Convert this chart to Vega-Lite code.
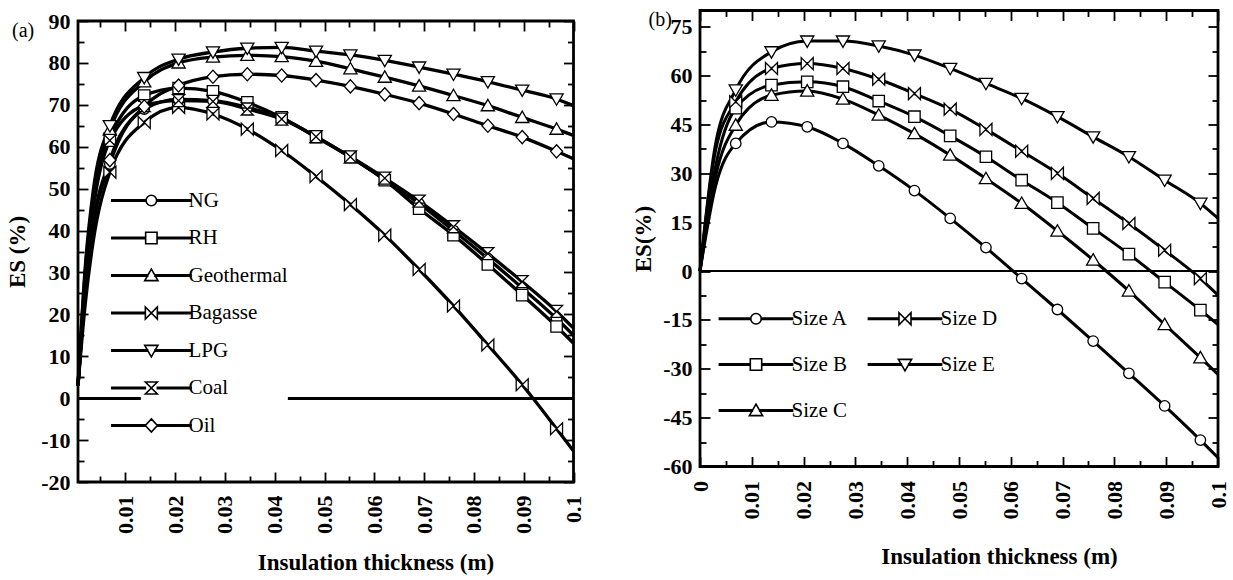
{
  "$schema": "https://vega.github.io/schema/vega-lite/v6.json",
  "background": "white",
  "padding": {"left": 5, "top": 7.5, "right": 2, "bottom": 2},
  "spacing": 45,
  "resolve": {"scale": {"stroke": "independent", "shape": "independent"}, "legend": {"stroke": "independent", "shape": "independent"}},
  "config": {
    "view": {"stroke": "black", "strokeWidth": 2.8},
    "font": "Liberation Serif",
    "axis": {
      "domain": false, "grid": false,
      "labelFont": "Liberation Serif", "labelFontWeight": "bold", "labelFontSize": 22, "labelColor": "black",
      "titleFont": "Liberation Serif", "titleFontWeight": "bold", "titleFontSize": 23, "titleColor": "black",
      "tickColor": "black", "tickWidth": 1.8, "labelOverlap": false, "labelFlush": false
    },
    "legend": {"labelFont": "Liberation Serif", "labelFontSize": 21, "labelColor": "black", "labelFontWeight": "normal"}
  },
  "datasets": {
    "fuels": [
      {"fuel":"NG","x":0.0005,"es":3},{"fuel":"NG","x":0.002,"es":26},{"fuel":"NG","x":0.0035,"es":40.5},{"fuel":"NG","x":0.0069,"es":55.9},{"fuel":"NG","x":0.0138,"es":69.0},{"fuel":"NG","x":0.0207,"es":71.3},{"fuel":"NG","x":0.0276,"es":71.0},{"fuel":"NG","x":0.0345,"es":69.4},{"fuel":"NG","x":0.0414,"es":66.8},{"fuel":"NG","x":0.0483,"es":62.4},{"fuel":"NG","x":0.0552,"es":57.5},{"fuel":"NG","x":0.0621,"es":52.2},{"fuel":"NG","x":0.069,"es":46.4},{"fuel":"NG","x":0.0759,"es":40.0},{"fuel":"NG","x":0.0828,"es":33.3},{"fuel":"NG","x":0.0897,"es":26.3},{"fuel":"NG","x":0.0966,"es":19.0},{"fuel":"NG","x":0.1,"es":15.0},
      {"fuel":"RH","x":0.0005,"es":3},{"fuel":"RH","x":0.002,"es":28},{"fuel":"RH","x":0.0035,"es":45},{"fuel":"RH","x":0.0069,"es":62},{"fuel":"RH","x":0.0138,"es":72.2},{"fuel":"RH","x":0.0207,"es":74.0},{"fuel":"RH","x":0.0276,"es":73.2},{"fuel":"RH","x":0.0345,"es":70.6},{"fuel":"RH","x":0.0414,"es":67.0},{"fuel":"RH","x":0.0483,"es":62.3},{"fuel":"RH","x":0.0552,"es":57.5},{"fuel":"RH","x":0.0621,"es":52.0},{"fuel":"RH","x":0.069,"es":45.2},{"fuel":"RH","x":0.0759,"es":38.9},{"fuel":"RH","x":0.0828,"es":31.9},{"fuel":"RH","x":0.0897,"es":24.6},{"fuel":"RH","x":0.0966,"es":17.1},{"fuel":"RH","x":0.1,"es":13.1},
      {"fuel":"Geothermal","x":0.0005,"es":3},{"fuel":"Geothermal","x":0.002,"es":31},{"fuel":"Geothermal","x":0.0035,"es":47.5},{"fuel":"Geothermal","x":0.0069,"es":64},{"fuel":"Geothermal","x":0.0138,"es":75.5},{"fuel":"Geothermal","x":0.0207,"es":80.0},{"fuel":"Geothermal","x":0.0276,"es":81.4},{"fuel":"Geothermal","x":0.0345,"es":81.8},{"fuel":"Geothermal","x":0.0414,"es":81.5},{"fuel":"Geothermal","x":0.0483,"es":80.4},{"fuel":"Geothermal","x":0.0552,"es":78.6},{"fuel":"Geothermal","x":0.0621,"es":76.6},{"fuel":"Geothermal","x":0.069,"es":74.5},{"fuel":"Geothermal","x":0.0759,"es":72.2},{"fuel":"Geothermal","x":0.0828,"es":69.8},{"fuel":"Geothermal","x":0.0897,"es":67.0},{"fuel":"Geothermal","x":0.0966,"es":64.2},{"fuel":"Geothermal","x":0.1,"es":62.7},
      {"fuel":"Bagasse","x":0.0005,"es":3},{"fuel":"Bagasse","x":0.002,"es":23},{"fuel":"Bagasse","x":0.0035,"es":37},{"fuel":"Bagasse","x":0.0069,"es":53.9},{"fuel":"Bagasse","x":0.0138,"es":65.8},{"fuel":"Bagasse","x":0.0207,"es":69.4},{"fuel":"Bagasse","x":0.0276,"es":67.8},{"fuel":"Bagasse","x":0.0345,"es":64.2},{"fuel":"Bagasse","x":0.0414,"es":59.1},{"fuel":"Bagasse","x":0.0483,"es":52.9},{"fuel":"Bagasse","x":0.0552,"es":46.2},{"fuel":"Bagasse","x":0.0621,"es":38.9},{"fuel":"Bagasse","x":0.069,"es":30.7},{"fuel":"Bagasse","x":0.0759,"es":22.0},{"fuel":"Bagasse","x":0.0828,"es":12.7},{"fuel":"Bagasse","x":0.0897,"es":3.2},{"fuel":"Bagasse","x":0.0966,"es":-7.3},{"fuel":"Bagasse","x":0.1,"es":-12.6},
      {"fuel":"LPG","x":0.0005,"es":3},{"fuel":"LPG","x":0.002,"es":32},{"fuel":"LPG","x":0.0035,"es":49},{"fuel":"LPG","x":0.0069,"es":65},{"fuel":"LPG","x":0.0138,"es":76.5},{"fuel":"LPG","x":0.0207,"es":80.9},{"fuel":"LPG","x":0.0276,"es":82.6},{"fuel":"LPG","x":0.0345,"es":83.5},{"fuel":"LPG","x":0.0414,"es":83.7},{"fuel":"LPG","x":0.0483,"es":82.8},{"fuel":"LPG","x":0.0552,"es":81.9},{"fuel":"LPG","x":0.0621,"es":80.6},{"fuel":"LPG","x":0.069,"es":79.0},{"fuel":"LPG","x":0.0759,"es":77.3},{"fuel":"LPG","x":0.0828,"es":75.5},{"fuel":"LPG","x":0.0897,"es":73.5},{"fuel":"LPG","x":0.0966,"es":71.4},{"fuel":"LPG","x":0.1,"es":69.8},
      {"fuel":"Coal","x":0.0005,"es":3},{"fuel":"Coal","x":0.002,"es":28},{"fuel":"Coal","x":0.0035,"es":44.5},{"fuel":"Coal","x":0.0069,"es":61.5},{"fuel":"Coal","x":0.0138,"es":69.8},{"fuel":"Coal","x":0.0207,"es":71.0},{"fuel":"Coal","x":0.0276,"es":70.8},{"fuel":"Coal","x":0.0345,"es":69.0},{"fuel":"Coal","x":0.0414,"es":66.6},{"fuel":"Coal","x":0.0483,"es":62.4},{"fuel":"Coal","x":0.0552,"es":57.6},{"fuel":"Coal","x":0.0621,"es":52.5},{"fuel":"Coal","x":0.069,"es":47.0},{"fuel":"Coal","x":0.0759,"es":40.9},{"fuel":"Coal","x":0.0828,"es":34.5},{"fuel":"Coal","x":0.0897,"es":27.8},{"fuel":"Coal","x":0.0966,"es":20.7},{"fuel":"Coal","x":0.1,"es":16.7},
      {"fuel":"Oil","x":0.0005,"es":3},{"fuel":"Oil","x":0.002,"es":26},{"fuel":"Oil","x":0.0035,"es":41},{"fuel":"Oil","x":0.0069,"es":56.8},{"fuel":"Oil","x":0.0138,"es":69.6},{"fuel":"Oil","x":0.0207,"es":74.6},{"fuel":"Oil","x":0.0276,"es":76.7},{"fuel":"Oil","x":0.0345,"es":77.3},{"fuel":"Oil","x":0.0414,"es":77.0},{"fuel":"Oil","x":0.0483,"es":75.9},{"fuel":"Oil","x":0.0552,"es":74.4},{"fuel":"Oil","x":0.0621,"es":72.5},{"fuel":"Oil","x":0.069,"es":70.4},{"fuel":"Oil","x":0.0759,"es":67.8},{"fuel":"Oil","x":0.0828,"es":65.0},{"fuel":"Oil","x":0.0897,"es":62.3},{"fuel":"Oil","x":0.0966,"es":58.9},{"fuel":"Oil","x":0.1,"es":57.1}
    ],
    "sizes": [
      {"size":"Size A","x":0,"es":0},{"size":"Size A","x":0.003,"es":26},{"size":"Size A","x":0.0069,"es":39.2},{"size":"Size A","x":0.0138,"es":45.8},{"size":"Size A","x":0.0207,"es":44.3},{"size":"Size A","x":0.0276,"es":39.2},{"size":"Size A","x":0.0345,"es":32.3},{"size":"Size A","x":0.0414,"es":24.7},{"size":"Size A","x":0.0483,"es":16.2},{"size":"Size A","x":0.0552,"es":7.2},{"size":"Size A","x":0.0621,"es":-2.3},{"size":"Size A","x":0.069,"es":-11.8},{"size":"Size A","x":0.0759,"es":-21.5},{"size":"Size A","x":0.0828,"es":-31.4},{"size":"Size A","x":0.0897,"es":-41.4},{"size":"Size A","x":0.0966,"es":-51.9},{"size":"Size A","x":0.1,"es":-57.3},
      {"size":"Size B","x":0,"es":0},{"size":"Size B","x":0.003,"es":32},{"size":"Size B","x":0.0069,"es":50.0},{"size":"Size B","x":0.0138,"es":57.1},{"size":"Size B","x":0.0207,"es":58.1},{"size":"Size B","x":0.0276,"es":56.6},{"size":"Size B","x":0.0345,"es":52.2},{"size":"Size B","x":0.0414,"es":47.4},{"size":"Size B","x":0.0483,"es":41.5},{"size":"Size B","x":0.0552,"es":35.1},{"size":"Size B","x":0.0621,"es":27.9},{"size":"Size B","x":0.069,"es":21.0},{"size":"Size B","x":0.0759,"es":13.1},{"size":"Size B","x":0.0828,"es":5.2},{"size":"Size B","x":0.0897,"es":-3.4},{"size":"Size B","x":0.0966,"es":-12.0},{"size":"Size B","x":0.1,"es":-16.4},
      {"size":"Size C","x":0,"es":0},{"size":"Size C","x":0.003,"es":29},{"size":"Size C","x":0.0069,"es":44.8},{"size":"Size C","x":0.0138,"es":54.0},{"size":"Size C","x":0.0207,"es":55.3},{"size":"Size C","x":0.0276,"es":52.8},{"size":"Size C","x":0.0345,"es":47.9},{"size":"Size C","x":0.0414,"es":42.2},{"size":"Size C","x":0.0483,"es":35.6},{"size":"Size C","x":0.0552,"es":28.4},{"size":"Size C","x":0.0621,"es":20.8},{"size":"Size C","x":0.069,"es":12.3},{"size":"Size C","x":0.0759,"es":3.4},{"size":"Size C","x":0.0828,"es":-6.1},{"size":"Size C","x":0.0897,"es":-16.4},{"size":"Size C","x":0.0966,"es":-26.6},{"size":"Size C","x":0.1,"es":-31.7},
      {"size":"Size D","x":0,"es":0},{"size":"Size D","x":0.003,"es":37},{"size":"Size D","x":0.0069,"es":52.0},{"size":"Size D","x":0.0138,"es":62.2},{"size":"Size D","x":0.0207,"es":63.7},{"size":"Size D","x":0.0276,"es":62.2},{"size":"Size D","x":0.0345,"es":58.9},{"size":"Size D","x":0.0414,"es":54.5},{"size":"Size D","x":0.0483,"es":49.7},{"size":"Size D","x":0.0552,"es":43.5},{"size":"Size D","x":0.0621,"es":36.8},{"size":"Size D","x":0.069,"es":30.0},{"size":"Size D","x":0.0759,"es":22.3},{"size":"Size D","x":0.0828,"es":14.6},{"size":"Size D","x":0.0897,"es":6.4},{"size":"Size D","x":0.0966,"es":-2.3},{"size":"Size D","x":0.1,"es":-7.4},
      {"size":"Size E","x":0,"es":0},{"size":"Size E","x":0.003,"es":39},{"size":"Size E","x":0.0069,"es":55.6},{"size":"Size E","x":0.0138,"es":67.3},{"size":"Size E","x":0.0207,"es":70.6},{"size":"Size E","x":0.0276,"es":70.6},{"size":"Size E","x":0.0345,"es":69.1},{"size":"Size E","x":0.0414,"es":66.3},{"size":"Size E","x":0.0483,"es":62.2},{"size":"Size E","x":0.0552,"es":57.6},{"size":"Size E","x":0.0621,"es":53.0},{"size":"Size E","x":0.069,"es":47.4},{"size":"Size E","x":0.0759,"es":41.2},{"size":"Size E","x":0.0828,"es":35.1},{"size":"Size E","x":0.0897,"es":27.9},{"size":"Size E","x":0.0966,"es":20.8},{"size":"Size E","x":0.1,"es":16.2}
    ]
  },
  "hconcat": [
    {
      "spacing": -3.5,
      "vconcat": [
        {"width": 495.5, "height": 1, "view": {"stroke": null}, "data": {"values": [{}]}, "mark": {"type": "rule", "opacity": 0}, "encoding": {}},
        {
          "width": 495.5, "height": 461,
          "data": {"name": "fuels"},
          "layer": [
            {"mark": {"type": "rule", "color": "black", "strokeWidth": 2}, "encoding": {"y": {"datum": 0, "type": "quantitative", "axis": null}}},
            {"mark": {"type": "line", "interpolate": "monotone", "strokeWidth": 3.3},
             "encoding": {
               "x": {"field": "x", "type": "quantitative", "scale": {"domain": [0.0005, 0.1], "nice": false, "zero": false},
                     "axis": {"orient": "bottom", "title": "Insulation thickness (m)", "values": [0.005,0.01,0.015,0.02,0.025,0.03,0.035,0.04,0.045,0.05,0.055,0.06,0.065,0.07,0.075,0.08,0.085,0.09,0.095,0.1],
                              "labelAngle": -90, "labelExpr": "abs(round(datum.value*200)) % 2 == 1 ? '' : '' + datum.value",
                              "tickSize": {"condition": {"test": "abs(round(datum.value*200)) % 2 == 1", "value": -6}, "value": -10},
                              "labelPadding": 23, "titleX": 297.5, "titleY": 69.5, "titleBaseline": "top"}},
               "y": {"field": "es", "type": "quantitative", "scale": {"domain": [-20, 90], "nice": false, "zero": false},
                     "axis": {"orient": "left", "title": "ES (%)", "values": [-20,-15,-10,-5,0,5,10,15,20,25,30,35,40,45,50,55,60,65,70,75,80,85,90],
                              "labelExpr": "abs(round(datum.value/5)) % 2 == 1 ? '' : '' + datum.value",
                              "tickSize": {"condition": {"test": "abs(round(datum.value/5)) % 2 == 1", "value": -6}, "value": -10},
                              "labelPadding": 18, "titlePadding": 11}},
               "stroke": {"field": "fuel", "type": "nominal", "sort": null, "scale": {"range": ["black"]},
                          "legend": {"orient": "none", "legendX": 62.85, "legendY": 179.5, "title": null, "symbolType": "M-6.6,0H6.6", "symbolSize": 144, "symbolStrokeWidth": 3.3, "symbolStrokeColor": "black", "labelOffset": 26.65, "rowPadding": 15.5, "fillColor": "white", "padding": 0,
                                     "encode": {"symbols": {"update": {
                                       "shape": {"signal": "datum.value === 'NG' ? 'M-6.6,-0.125H-0.875V0.125H-6.6ZM0.875,-0.125H6.6V0.125H0.875ZM0.875,0C0.875,0.483,0.483,0.875,0,0.875C-0.483,0.875,-0.875,0.483,-0.875,0C-0.875,-0.483,-0.483,-0.875,0,-0.875C0.483,-0.875,0.875,-0.483,0.875,0Z' : datum.value === 'RH' ? 'M-6.6,-0.125H-0.95V0.125H-6.6ZM0.95,-0.125H6.6V0.125H0.95ZM-0.95,-0.95H0.95V0.95H-0.95Z' : datum.value === 'Geothermal' ? 'M-6.6,-0.125H-0.61V0.125H-6.6ZM0.61,-0.125H6.6V0.125H0.61ZM0,-1.05L1.1,0.85L-1.1,0.85Z' : datum.value === 'Bagasse' ? 'M-6.6,-0.125H-1V0.125H-6.6ZM1,-0.125H6.6V0.125H1ZM-1,-1L1,1L1,-1L-1,1Z' : datum.value === 'LPG' ? 'M-6.6,-0.125H-0.61V0.125H-6.6ZM0.61,-0.125H6.6V0.125H0.61ZM0,1.05L1.1,-0.85L-1.1,-0.85Z' : datum.value === 'Coal' ? 'M-6.6,-0.125H-1V0.125H-6.6ZM1,-0.125H6.6V0.125H1ZM-1,-1L1,-1L-1,1L1,1Z' : 'M-6.6,-0.125H-1V0.125H-6.6ZM1,-0.125H6.6V0.125H1ZM0,-1.1L1,0L0,1.1L-1,0Z'"},
                                       "fill": {"value": "white"}, "stroke": {"value": "black"}, "strokeWidth": {"value": 1.6}, "size": {"value": 144}, "opacity": {"value": 1}
                                     }}}}}
             }},
            {"transform": [{"filter": "datum.x > 0.006 && datum.x < 0.099"}],
             "mark": {"type": "point", "filled": true, "fill": "white", "stroke": "black", "strokeWidth": 1.3, "size": 144, "opacity": 1},
             "encoding": {
               "x": {"field": "x", "type": "quantitative", "axis": {"orient": "top", "labels": false, "values": [0.005,0.01,0.015,0.02,0.025,0.03,0.035,0.04,0.045,0.05,0.055,0.06,0.065,0.07,0.075,0.08,0.085,0.09,0.095,0.1],
                     "tickSize": {"condition": {"test": "abs(round(datum.value*200)) % 2 == 1", "value": -6}, "value": -10},
                     "title": "(a)", "titleX": -66.5, "titleY": -1, "titleBaseline": "top", "titleAlign": "left", "titleAngle": 0, "titleFontWeight": "normal", "titleFontSize": 20}},
               "y": {"field": "es", "type": "quantitative", "axis": {"orient": "right", "title": null, "labels": false, "values": [-20,-15,-10,-5,0,5,10,15,20,25,30,35,40,45,50,55,60,65,70,75,80,85,90],
                     "tickSize": {"condition": {"test": "abs(round(datum.value/5)) % 2 == 1", "value": -6}, "value": -10}}},
               "shape": {"field": "fuel", "type": "nominal", "legend": null,
                         "scale": {"domain": ["NG","RH","Geothermal","Bagasse","LPG","Coal","Oil"],
                                   "range": ["M0.875,0C0.875,0.483,0.483,0.875,0,0.875C-0.483,0.875,-0.875,0.483,-0.875,0C-0.875,-0.483,-0.483,-0.875,0,-0.875C0.483,-0.875,0.875,-0.483,0.875,0Z",
                                             "M-0.95,-0.95H0.95V0.95H-0.95Z",
                                             "M0,-1.05L1.1,0.85L-1.1,0.85Z",
                                             "M-1,-1L1,1L1,-1L-1,1Z",
                                             "M0,1.05L1.1,-0.85L-1.1,-0.85Z",
                                             "M-1,-1L1,-1L-1,1L1,1Z",
                                             "M0,-1.1L1,0L0,1.1L-1,0Z"]}}
             }}
          ],
          "resolve": {"axis": {"x": "independent", "y": "independent"}}
        }
      ]
    },
    {
      "width": 518, "height": 456,
      "data": {"name": "sizes"},
      "layer": [
        {"mark": {"type": "rule", "color": "black", "strokeWidth": 2}, "encoding": {"y": {"datum": 0, "type": "quantitative", "axis": null}}},
        {"mark": {"type": "line", "interpolate": "monotone", "strokeWidth": 3.0},
         "encoding": {
           "x": {"field": "x", "type": "quantitative", "scale": {"domain": [0, 0.1], "nice": false, "zero": false},
                 "axis": {"orient": "bottom", "title": "Insulation thickness (m)", "values": [0,0.005,0.01,0.015,0.02,0.025,0.03,0.035,0.04,0.045,0.05,0.055,0.06,0.065,0.07,0.075,0.08,0.085,0.09,0.095,0.1],
                          "labelAngle": -90, "labelExpr": "abs(round(datum.value*200)) % 2 == 1 ? '' : '' + datum.value",
                          "tickSize": {"condition": {"test": "abs(round(datum.value*200)) % 2 == 1", "value": -6}, "value": -10},
                          "labelPadding": 24, "titleX": 299, "titleY": 79, "titleBaseline": "top"}},
           "y": {"field": "es", "type": "quantitative", "scale": {"domain": [-60, 80], "nice": false, "zero": false},
                 "axis": {"orient": "left", "title": "ES(%)", "values": [-60,-52.5,-45,-37.5,-30,-22.5,-15,-7.5,0,7.5,15,22.5,30,37.5,45,52.5,60,67.5,75],
                          "labelExpr": "abs(round(datum.value/7.5)) % 2 == 1 ? '' : '' + datum.value",
                          "tickSize": {"condition": {"test": "abs(round(datum.value/7.5)) % 2 == 1", "value": -6}, "value": -10},
                          "labelPadding": 18, "titlePadding": 7}},
           "stroke": {"field": "size", "type": "nominal", "sort": null, "scale": {"range": ["black"]},
                      "legend": {"orient": "none", "legendX": 45.5, "legendY": 297.5, "title": null, "columns": 2, "columnPadding": 16, "symbolType": "M-6.1,0H6.1", "symbolSize": 144, "symbolStrokeWidth": 3.0, "symbolStrokeColor": "black", "labelOffset": 25.1, "rowPadding": 24, "padding": 0,
                                 "encode": {"symbols": {"update": {
                                   "shape": {"signal": "datum.value === 'Size A' ? 'M-6.1,-0.125H-0.875V0.125H-6.1ZM0.875,-0.125H6.1V0.125H0.875ZM0.875,0C0.875,0.483,0.483,0.875,0,0.875C-0.483,0.875,-0.875,0.483,-0.875,0C-0.875,-0.483,-0.483,-0.875,0,-0.875C0.483,-0.875,0.875,-0.483,0.875,0Z' : datum.value === 'Size B' ? 'M-6.1,-0.125H-0.95V0.125H-6.1ZM0.95,-0.125H6.1V0.125H0.95ZM-0.95,-0.95H0.95V0.95H-0.95Z' : datum.value === 'Size C' ? 'M-6.1,-0.125H-0.61V0.125H-6.1ZM0.61,-0.125H6.1V0.125H0.61ZM0,-1.05L1.1,0.85L-1.1,0.85Z' : datum.value === 'Size D' ? 'M-6.1,-0.125H-1V0.125H-6.1ZM1,-0.125H6.1V0.125H1ZM-1,-1L1,1L1,-1L-1,1Z' : 'M-6.1,-0.125H-0.61V0.125H-6.1ZM0.61,-0.125H6.1V0.125H0.61ZM0,1.05L1.1,-0.85L-1.1,-0.85Z'"},
                                   "fill": {"value": "white"}, "stroke": {"value": "black"}, "strokeWidth": {"value": 1.6}, "size": {"value": 144}, "opacity": {"value": 1}
                                 }}}}}
         }},
        {"transform": [{"filter": "datum.x > 0.005 && datum.x < 0.099"}],
         "mark": {"type": "point", "filled": true, "fill": "white", "stroke": "black", "strokeWidth": 1.3, "size": 144, "opacity": 1},
         "encoding": {
           "x": {"field": "x", "type": "quantitative", "axis": {"orient": "top", "labels": false, "values": [0,0.005,0.01,0.015,0.02,0.025,0.03,0.035,0.04,0.045,0.05,0.055,0.06,0.065,0.07,0.075,0.08,0.085,0.09,0.095,0.1],
                 "tickSize": {"condition": {"test": "abs(round(datum.value*200)) % 2 == 1", "value": -6}, "value": -10},
                 "title": "(b)", "titleX": -52, "titleY": -1, "titleBaseline": "top", "titleAlign": "left", "titleAngle": 0, "titleFontWeight": "normal", "titleFontSize": 20}},
           "y": {"field": "es", "type": "quantitative", "axis": {"orient": "right", "title": null, "labels": false, "values": [-60,-52.5,-45,-37.5,-30,-22.5,-15,-7.5,0,7.5,15,22.5,30,37.5,45,52.5,60,67.5,75],
                 "tickSize": {"condition": {"test": "abs(round(datum.value/7.5)) % 2 == 1", "value": -6}, "value": -10}}},
           "shape": {"field": "size", "type": "nominal", "legend": null,
                     "scale": {"domain": ["Size A","Size B","Size C","Size D","Size E"],
                               "range": ["M0.875,0C0.875,0.483,0.483,0.875,0,0.875C-0.483,0.875,-0.875,0.483,-0.875,0C-0.875,-0.483,-0.483,-0.875,0,-0.875C0.483,-0.875,0.875,-0.483,0.875,0Z",
                                         "M-0.95,-0.95H0.95V0.95H-0.95Z",
                                         "M0,-1.05L1.1,0.85L-1.1,0.85Z",
                                         "M-1,-1L1,1L1,-1L-1,1Z",
                                         "M0,1.05L1.1,-0.85L-1.1,-0.85Z"]}}
         }}
      ],
      "resolve": {"axis": {"x": "independent", "y": "independent"}}
    }
  ]
}
